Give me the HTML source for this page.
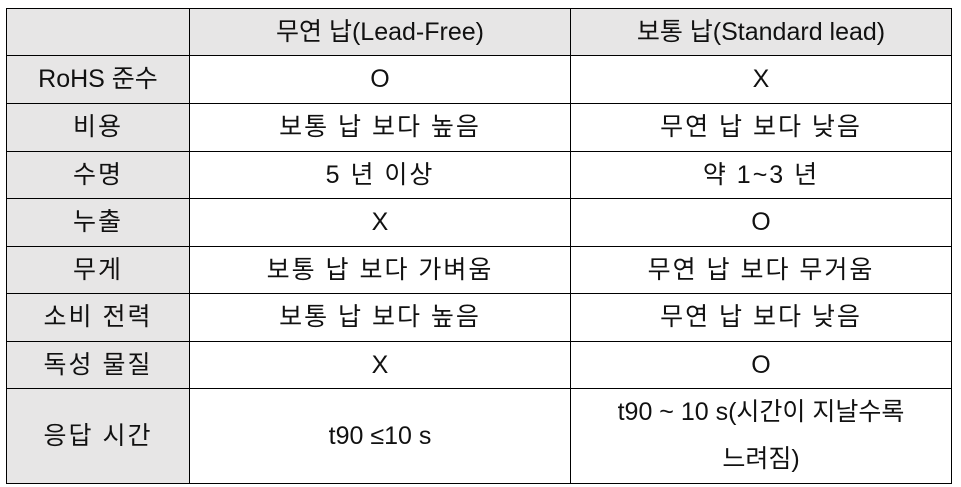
<!DOCTYPE html>
<html><head><meta charset="utf-8"><style>
html,body{margin:0;padding:0;background:#fff;width:961px;height:487px;overflow:hidden}
table{position:absolute;left:6px;top:8px;border-collapse:collapse;table-layout:fixed;font-family:"Liberation Sans","Noto Sans CJK KR",sans-serif;font-size:25px;color:#111}
td{border:1.5px solid #000;text-align:center;vertical-align:middle;padding:0 4px;line-height:43px;white-space:nowrap;overflow:hidden}
td.h{background:#e7e6e6}
.k{letter-spacing:2px}
</style></head><body>
<table>
<colgroup><col style="width:183px"><col style="width:381px"><col style="width:381px"></colgroup>
<tr style="height:47px"><td class="h"></td><td class="h">무연 납(Lead-Free)</td><td class="h">보통 납(Standard lead)</td></tr>
<tr style="height:48px"><td class="h">RoHS 준수</td><td>O</td><td>X</td></tr>
<tr style="height:48px"><td class="h k">비용</td><td class="k">보통 납 보다 높음</td><td class="k">무연 납 보다 낮음</td></tr>
<tr style="height:47px"><td class="h k">수명</td><td class="k">5 년 이상</td><td class="k">약 1~3 년</td></tr>
<tr style="height:48px"><td class="h k">누출</td><td>X</td><td>O</td></tr>
<tr style="height:47px"><td class="h k">무게</td><td class="k">보통 납 보다 가벼움</td><td class="k">무연 납 보다 무거움</td></tr>
<tr style="height:48px"><td class="h k">소비 전력</td><td class="k">보통 납 보다 높음</td><td class="k">무연 납 보다 낮음</td></tr>
<tr style="height:47px"><td class="h k">독성 물질</td><td>X</td><td>O</td></tr>
<tr style="height:94px"><td class="h k">응답 시간</td><td>t90 ≤10 s</td><td style="line-height:47px">t90 ~ 10 s(시간이 지날수록<br>느려짐)</td></tr>
</table>
</body></html>
